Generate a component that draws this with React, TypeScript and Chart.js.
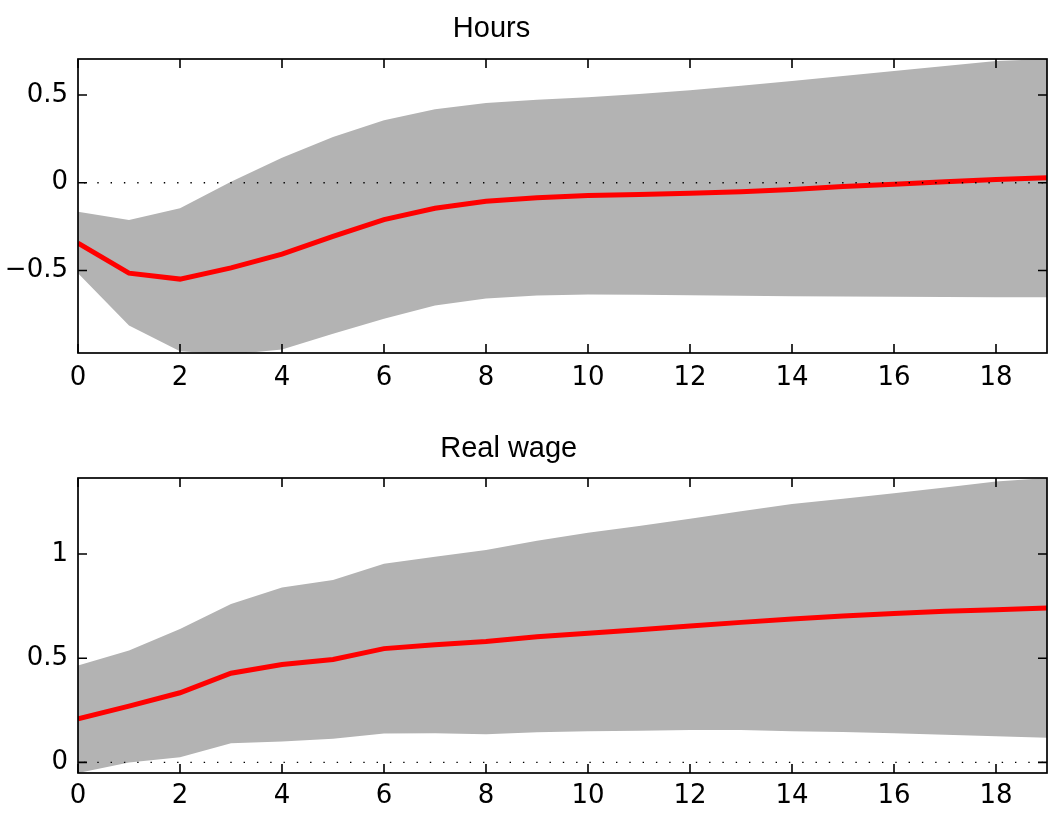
import React, { useEffect, useRef } from 'react';
import { Chart, registerables } from 'chart.js';

Chart.register(...registerables);

// ---------- data ----------
const HORIZON = [0, 1, 2, 3, 4, 5, 6, 7, 8, 9, 10, 11, 12, 13, 14, 15, 16, 17, 18, 19];
const X_TICKS = [0, 2, 4, 6, 8, 10, 12, 14, 16, 18];

const HOURS_TITLE = 'Hours';
const HOURS_MEDIAN = [-0.344, -0.515, -0.549, -0.485, -0.407, -0.305, -0.21, -0.145, -0.105, -0.085, -0.073, -0.067, -0.06, -0.052, -0.038, -0.022, -0.008, 0.006, 0.018, 0.028];
const HOURS_UPPER = [-0.165, -0.212, -0.146, 0.006, 0.142, 0.261, 0.356, 0.418, 0.455, 0.473, 0.487, 0.505, 0.527, 0.552, 0.58, 0.608, 0.636, 0.665, 0.693, 0.705];
const HOURS_LOWER = [-0.515, -0.813, -0.96, -0.978, -0.95, -0.86, -0.775, -0.7, -0.66, -0.642, -0.636, -0.638, -0.641, -0.644, -0.646, -0.648, -0.65, -0.651, -0.652, -0.653];
const HOURS_Y_TICKS = [-0.5, 0, 0.5];
const HOURS_Y_MIN = -0.97;
const HOURS_Y_MAX = 0.705;

const WAGE_TITLE = 'Real wage';
const WAGE_MEDIAN = [0.209, 0.27, 0.334, 0.428, 0.47, 0.494, 0.546, 0.565, 0.58, 0.603, 0.62, 0.637, 0.655, 0.672, 0.688, 0.703, 0.715, 0.725, 0.733, 0.741];
const WAGE_UPPER = [0.465, 0.537, 0.64, 0.76, 0.84, 0.875, 0.953, 0.987, 1.02, 1.064, 1.102, 1.135, 1.17, 1.205, 1.24, 1.266, 1.292, 1.32, 1.348, 1.365];
const WAGE_LOWER = [-0.051, 0.0, 0.025, 0.092, 0.1, 0.113, 0.139, 0.14, 0.135, 0.145, 0.15, 0.152, 0.155, 0.155, 0.15, 0.146, 0.14, 0.133, 0.126, 0.118];
const WAGE_Y_TICKS = [0, 0.5, 1];
const WAGE_Y_MIN = -0.051;
const WAGE_Y_MAX = 1.365;

// ---------- styling ----------
const TITLE_FONT = "'Liberation Sans', Arial, Helvetica, sans-serif";
const TICK_FONT = "'DejaVu Sans', sans-serif";
const BAND = '#b3b3b3';
const RED = '#ff0000';

const fmt = (v: number) => {
  if (v === 0) return '0';
  const s = String(Math.abs(v));
  return v < 0 ? '\u2212' + s : s;
};

type PanelProps = {
  title: string;
  titleX: number;
  titleY: number;
  median: number[];
  upper: number[];
  lower: number[];
  yTicks: number[];
  yMin: number;
  yMax: number;
  top: number;
  height: number;
  padTop: number;
  xAxisHeight: number;
  xLabelPad: number;
};

function Panel(p: PanelProps) {
  const ref = useRef<HTMLCanvasElement | null>(null);

  useEffect(() => {
    const canvas = ref.current;
    if (!canvas) return;
    const pts = (arr: number[]) => HORIZON.map((x, i) => ({ x, y: arr[i] }));

    const frame = {
      id: 'frame',
      afterDatasetsDraw(chart: any) {
        const { ctx, chartArea: a, scales } = chart;
        const y0 = scales.y.getPixelForValue(0);
        ctx.save();
        ctx.strokeStyle = '#000';
        ctx.lineWidth = 1.4;
        ctx.setLineDash([1.4, 11.9]);
        ctx.beginPath();
        ctx.moveTo(a.left + 6, y0);
        ctx.lineTo(a.right, y0);
        ctx.stroke();
        ctx.restore();
      },
      afterDraw(chart: any) {
        const { ctx, chartArea: a, scales } = chart;
        const tl = 9;
        ctx.save();
        ctx.strokeStyle = '#000';
        ctx.lineWidth = 1.6;
        ctx.beginPath();
        for (const v of X_TICKS) {
          const x = scales.x.getPixelForValue(v);
          ctx.moveTo(x, a.bottom);
          ctx.lineTo(x, a.bottom - tl);
          ctx.moveTo(x, a.top);
          ctx.lineTo(x, a.top + tl);
        }
        for (const v of p.yTicks) {
          const y = scales.y.getPixelForValue(v);
          ctx.moveTo(a.left, y);
          ctx.lineTo(a.left + tl, y);
          ctx.moveTo(a.right, y);
          ctx.lineTo(a.right - tl, y);
        }
        ctx.stroke();
        ctx.lineWidth = 1.7;
        ctx.strokeRect(a.left, a.top, a.right - a.left, a.bottom - a.top);
        ctx.fillStyle = '#000';
        ctx.font = `29px ${TITLE_FONT}`;
        ctx.textAlign = 'center';
        ctx.textBaseline = 'alphabetic';
        ctx.fillText(p.title, p.titleX, p.titleY);
        ctx.restore();
      },
    };

    const chart = new Chart(canvas, {
      type: 'line',
      data: {
        datasets: [
          {
            label: 'median',
            data: pts(p.median),
            borderColor: RED,
            borderWidth: 5,
            pointRadius: 0,
            fill: false,
            tension: 0,
          },
          {
            label: 'upper',
            data: pts(p.upper),
            borderColor: BAND,
            borderWidth: 0,
            backgroundColor: BAND,
            pointRadius: 0,
            fill: '+1',
            tension: 0,
          },
          {
            label: 'lower',
            data: pts(p.lower),
            borderColor: BAND,
            borderWidth: 0,
            pointRadius: 0,
            fill: false,
            tension: 0,
          },
        ],
      },
      options: {
        animation: false,
        responsive: false,
        devicePixelRatio: 1,
        layout: { padding: { top: p.padTop, right: 2, bottom: 0, left: 0 } },
        plugins: {
          legend: { display: false },
          title: { display: false },
          tooltip: { enabled: false },
          filler: { drawTime: 'beforeDatasetsDraw' },
        },
        scales: {
          x: {
            type: 'linear',
            min: 0,
            max: 19,
            grid: { display: false, drawTicks: false },
            border: { display: false },
            afterBuildTicks: (s: any) => {
              s.ticks = X_TICKS.map((v) => ({ value: v }));
            },
            afterFit: (s: any) => {
              s.height = p.xAxisHeight;
            },
            ticks: {
              padding: p.xLabelPad,
              color: '#000',
              font: { family: TICK_FONT, size: 26 },
              maxRotation: 0,
              autoSkip: false,
              callback: (v: any) => fmt(Number(v)),
            },
          },
          y: {
            type: 'linear',
            min: p.yMin,
            max: p.yMax,
            grid: { display: false, drawTicks: false },
            border: { display: false },
            afterBuildTicks: (s: any) => {
              s.ticks = p.yTicks.map((v) => ({ value: v }));
            },
            afterFit: (s: any) => {
              s.width = 78;
            },
            ticks: {
              padding: 10,
              color: '#000',
              font: { family: TICK_FONT, size: 26 },
              autoSkip: false,
              callback: (v: any) => fmt(Number(v)),
            },
          },
        },
      },
      plugins: [frame],
    } as any);

    return () => chart.destroy();
  }, []);

  return (
    <div style={{ position: 'absolute', left: 0, top: p.top, width: 1049, height: p.height }}>
      <canvas ref={ref} width={1049} height={p.height} style={{ display: 'block', width: 1049, height: p.height }} />
    </div>
  );
}

export default function App() {
  return (
    <div style={{ position: 'absolute', left: 0, top: 0, width: 1049, height: 821, background: '#fff', overflow: 'hidden' }}>
      <Panel
        title={HOURS_TITLE}
        titleX={491.5}
        titleY={37}
        median={HOURS_MEDIAN}
        upper={HOURS_UPPER}
        lower={HOURS_LOWER}
        yTicks={HOURS_Y_TICKS}
        yMin={HOURS_Y_MIN}
        yMax={HOURS_Y_MAX}
        top={0}
        height={410}
        padTop={59}
        xAxisHeight={57}
        xLabelPad={10}
      />
      <Panel
        title={WAGE_TITLE}
        titleX={508.7}
        titleY={46.7}
        median={WAGE_MEDIAN}
        upper={WAGE_UPPER}
        lower={WAGE_LOWER}
        yTicks={WAGE_Y_TICKS}
        yMin={WAGE_Y_MIN}
        yMax={WAGE_Y_MAX}
        top={410}
        height={411}
        padTop={68}
        xAxisHeight={48}
        xLabelPad={8}
      />
    </div>
  );
}
